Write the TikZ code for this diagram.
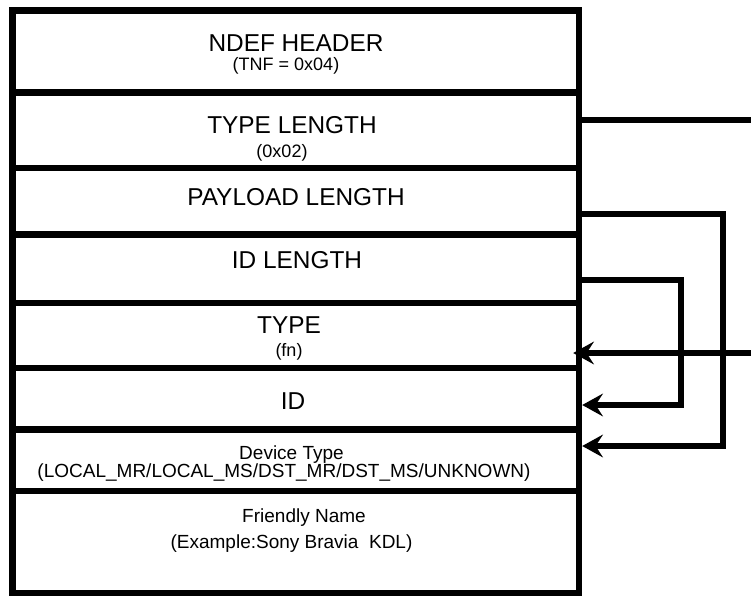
\documentclass[tikz,border=0pt]{standalone}
\usepackage{fontspec}
\setmainfont{Liberation Sans}
\usetikzlibrary{arrows.meta}

\begin{document}
\begin{tikzpicture}[x=0.75pt, y=-0.75pt,
    field/.style={draw, line width=4.8pt, minimum width=424.9pt, inner sep=0pt},
    big/.style={inner sep=0pt, anchor=base, font=\fontsize{18.3}{22}\selectfont},
    small/.style={inner sep=0pt, anchor=base, font=\fontsize{13.5}{16}\selectfont},
    note/.style={inner sep=0pt, anchor=base, font=\fontsize{14.25}{17}\selectfont},
    link/.style={line width=4.5pt},
    tip/.style={-{Stealth[length=15.5pt, width=17pt, inset=5.5pt]}}]
    \useasboundingbox (0,0) rectangle (751,597);

    % record fields, top to bottom
    \node[field, minimum height=61.5pt] (hdr) at (295.75,51.5) {};
    \node[field, minimum height=56.6pt] (tlen) at (295.75,130.25) {};
    \node[field, minimum height=49.9pt] (plen) at (295.75,201.25) {};
    \node[field, minimum height=51.4pt] (idlen) at (295.75,268.75) {};
    \node[field, minimum height=48.75pt] (type) at (295.75,335.5) {};
    \node[field, minimum height=46.1pt] (id) at (295.75,398.75) {};
    \node[field, minimum height=46.1pt] (dev) at (295.75,460.25) {};
    \node[field, minimum height=76.5pt] (fname) at (295.75,542) {};

    % labels
    \node[big] (hdrtxt) at (296,51.7) {NDEF HEADER};
    \node[small] (hdrsub) at (286,70) {(TNF = 0x04)};
    \node[big] (tlentxt) at (292,133.3) {TYPE LENGTH};
    \node[small] (tlensub) at (282,157) {(0x02)};
    \node[big] (plentxt) at (296,205) {PAYLOAD LENGTH};
    \node[big] (idlentxt) at (297,268.3) {ID LENGTH};
    \node[big] (typetxt) at (289,333.3) {TYPE};
    \node[small] (typesub) at (289,356) {(fn)};
    \node[big] (idtxt) at (293,409.3) {ID};
    \node[note] (devtxt) at (291.5,459) {Device Type};
    \node[note] (devsub) at (284,477) {(LOCAL\_MR/LOCAL\_MS/DST\_MR/DST\_MS/UNKNOWN)};
    \node[note] (fnametxt) at (304,522) {Friendly Name};
    \node[note] (fnamesub) at (291.5,548) {(Example:Sony Bravia\ \ KDL)};

    % turning points
    \coordinate (tlout) at (751,120);
    \coordinate (typein) at (751,353);
    \coordinate (plturn) at (723,214);
    \coordinate (plback) at (723,446);
    \coordinate (idturn) at (681,280);
    \coordinate (idback) at (681,405);

    % links
    \draw[link] (tlout -| tlen.east) -- (tlout);
    \draw[link, tip, shorten >=-6.75pt] (typein) -- (typein -| type.east);
    \draw[link, tip] (plturn -| plen.east) -- (plturn) -- (plback) -- (plback -| dev.east);
    \draw[link, tip] (idturn -| idlen.east) -- (idturn) -- (idback) -- (idback -| id.east);
\end{tikzpicture}
\end{document}
